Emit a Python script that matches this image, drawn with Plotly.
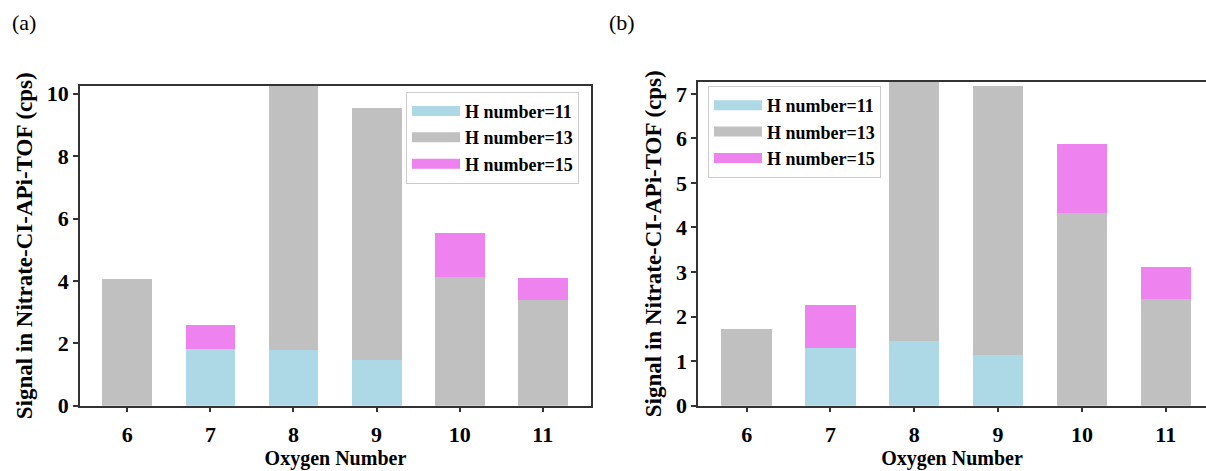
import plotly.graph_objects as go

oxygen = [6, 7, 8, 9, 10, 11]
labels = ["H number=11", "H number=13", "H number=15"]
colors = ["#ADD8E6", "#C0C0C0", "#EE82EE"]

a_h11 = [0, 1.82, 1.78, 1.45, 0, 0]
a_h13 = [4.06, 0, 8.9, 8.09, 4.14, 3.39]
a_h15 = [0, 0.77, 0, 0, 1.41, 0.69]

b_h11 = [0, 1.29, 1.46, 1.14, 0, 0]
b_h13 = [1.73, 0, 6.2, 6.04, 4.33, 2.41]
b_h15 = [0, 0.98, 0, 0, 1.54, 0.70]

a_yticks = [0, 2, 4, 6, 8, 10]
b_yticks = [0, 1, 2, 3, 4, 5, 6, 7]

FONT = "Liberation Serif"
fig = go.Figure()

def add_panel(series, xa, ya, leg):
    for vals, name, col in zip(series, labels, colors):
        fig.add_trace(go.Bar(x=oxygen, y=vals, name=name, marker_color=col, marker_line_width=0,
                             width=0.6, xaxis=xa, yaxis=ya, showlegend=False, hoverinfo="x+y"))
    # legend-only entries drawn as wide patches
    for name, col in zip(labels, colors):
        fig.add_trace(go.Scatter(x=[None], y=[None], mode="lines", name=name,
                                 line=dict(color=col, width=12), xaxis=xa, yaxis=ya, legend=leg))

add_panel([a_h11, a_h13, a_h15], "x", "y", "legend")
add_panel([b_h11, b_h13, b_h15], "x2", "y2", "legend2")

axis_common = dict(showline=True, linecolor="#333", linewidth=1.5, ticks="outside",
                   ticklen=5, tickwidth=1.5, tickcolor="#333", showgrid=False, zeroline=False,
                   tickfont=dict(family=FONT, size=22, color="black", weight="bold"))
xtitle = dict(text="<b>Oxygen Number</b>", font=dict(family=FONT, size=20), standoff=5)
ytitle = dict(text="<b>Signal in Nitrate-CI-APi-TOF (cps)</b>", font=dict(family=FONT, size=23), standoff=8)
legend_common = dict(yanchor="top", traceorder="normal", bordercolor="#cccccc", borderwidth=1,
                     bgcolor="white", font=dict(family=FONT, size=18, weight="bold"),
                     itemwidth=48, tracegroupgap=0)

fig.update_layout(
    width=1206, height=471, barmode="stack", plot_bgcolor="white", paper_bgcolor="white",
    margin=dict(l=0, r=0, t=0, b=0), bargap=0,
    font=dict(family=FONT, color="black"),
    xaxis=dict(domain=[0.0663, 0.490], range=[5.43, 11.58], tickvals=oxygen, mirror=True,
               anchor="y", title=xtitle, ticklabelstandoff=3, **axis_common),
    yaxis=dict(domain=[0.1153, 0.8195], range=[0, 10.25], tickvals=a_yticks, mirror=True,
               anchor="x", title=ytitle, **axis_common),
    xaxis2=dict(domain=[0.5788, 1.0], range=[5.42, 11.48], tickvals=oxygen, mirror=True,
                anchor="y2", title=xtitle, ticklabelstandoff=3, **axis_common),
    yaxis2=dict(domain=[0.1153, 0.8287], range=[0, 7.27], tickvals=b_yticks,
                anchor="x2", title=ytitle, **axis_common),
    legend=dict(x=579 / 1206, y=1 - 91 / 471, xanchor="right", **legend_common),
    legend2=dict(x=708 / 1206, y=1 - 85 / 471, xanchor="left", **legend_common),
    annotations=[
        dict(text="(a)", x=24 / 1206, y=1 - 19 / 471, xref="paper", yref="paper", showarrow=False,
             xanchor="center", yanchor="middle", font=dict(family=FONT, size=22)),
        dict(text="(b)", x=622 / 1206, y=1 - 19 / 471, xref="paper", yref="paper", showarrow=False,
             xanchor="center", yanchor="middle", font=dict(family=FONT, size=22)),
    ],
)

fig.write_html("out.html", config={"displayModeBar": False},
               post_script="document.body.style.margin='0px';")
